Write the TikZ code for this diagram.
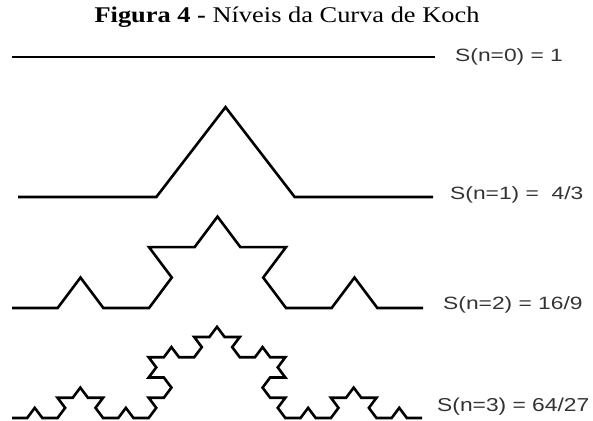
\documentclass[tikz,border=0pt]{standalone}
\usepackage{graphicx}
\usepackage{fontspec}
\setmainfont{Liberation Serif}
\newfontfamily\labfont{Liberation Sans}
\tikzset{
  curve/.style={line width=2.6pt, black, line join=miter, line cap=butt},
  lab/.style={anchor=west, inner sep=0pt, text=black!80, font=\labfont\fontsize{22.8}{24}\selectfont},
  ttl/.style={anchor=base, inner sep=0pt, font=\fontsize{26.4}{28}\selectfont}
}
\newcommand{\sq}[2][0.77]{\scalebox{1}[#1]{#2}}
% recursive Koch segment: x1 y1 x2 y2 level ; appends to \kpath
\newcommand\kochseg[5]{%
  \ifnum#5=0
    \xdef\kpath{\kpath -- (#3,#4)}%
  \else
    \begingroup
    \pgfmathsetmacro\kdx{(#3-#1)/3}%
    \pgfmathsetmacro\kdy{(#4-#2)/3}%
    \pgfmathsetmacro\kax{#1+\kdx}%
    \pgfmathsetmacro\kay{#2+\kdy}%
    \pgfmathsetmacro\kbx{\kax+0.5*\kdx-0.8660254*\kdy}%
    \pgfmathsetmacro\kby{\kay+0.8660254*\kdx+0.5*\kdy}%
    \pgfmathsetmacro\kcx{#1+2*\kdx}%
    \pgfmathsetmacro\kcy{#2+2*\kdy}%
    \pgfmathtruncatemacro\kn{#5-1}%
    \edef\knext{%
      \noexpand\kochseg{#1}{#2}{\kax}{\kay}{\kn}%
      \noexpand\kochseg{\kax}{\kay}{\kbx}{\kby}{\kn}%
      \noexpand\kochseg{\kbx}{\kby}{\kcx}{\kcy}{\kn}%
      \noexpand\kochseg{\kcx}{\kcy}{#3}{#4}{\kn}}%
    \knext
    \endgroup
  \fi}
\newcommand\drawkoch[5]{% x1 x2 level ybase yscale
  \xdef\kpath{(#1,0)}%
  \kochseg{#1}{0}{#2}{0}{#3}%
  \begin{scope}[shift={(0,#4)}, yscale=#5]
    \edef\kdraw{\noexpand\draw[curve] \kpath;}%
    \kdraw
  \end{scope}}
\begin{document}
\begin{tikzpicture}[x=1pt,y=1pt]
\useasboundingbox (0,0) rectangle (593,420);
% title
\node[ttl] (title) at (287,397) {\sq[0.85]{\textbf{Figura 4 -} Níveis da Curva de Koch}};
% level 0
\coordinate (a0) at (12,363);
\coordinate (b0) at (435,363);
\draw[curve] (a0) -- (b0);
\node[lab] (l0) at (455,363) {\sq[0.78]{S(n=0) = 1}};
% level 1
\drawkoch{18}{433}{1}{223}{0.75}
\node[lab] (l1) at (450,225) {\sq[0.78]{S(n=1) = \ 4/3}};
% level 2
\drawkoch{12}{423}{2}{112}{0.77}
\node[lab] (l2) at (443,115) {\sq[0.78]{S(n=2) = 16/9}};
% level 3
\drawkoch{12}{422}{3}{2}{0.77}
\node[lab] (l3) at (437,13) {\sq[0.82]{S(n=3) = 64/27}};
\end{tikzpicture}
\end{document}
